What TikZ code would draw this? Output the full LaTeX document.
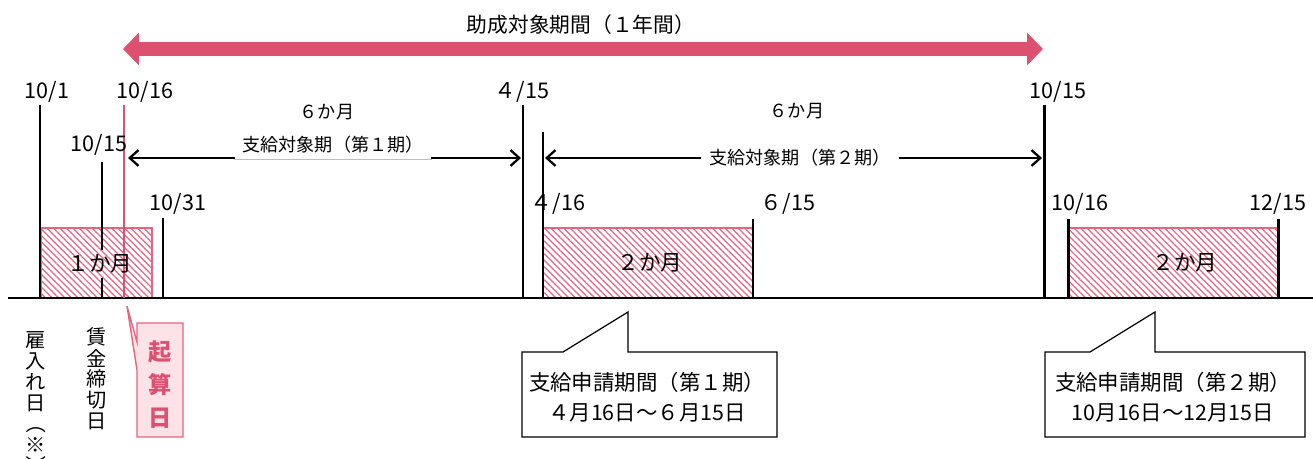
\documentclass[tikz,border=0pt]{standalone}
\usepackage{fontspec}
\setmainfont{Noto Sans CJK JP}
\usetikzlibrary{arrows.meta,patterns.meta}
\definecolor{jpPink}{RGB}{221, 80, 112}
\definecolor{jpPinkLine}{RGB}{230, 100, 128}
\definecolor{jpPinkFill}{RGB}{253, 226, 231}
\definecolor{jpGray}{RGB}{190, 190, 190}

\begin{document}
\begin{tikzpicture}[x=0.02cm, y=-0.02cm]
    % Styles
    \tikzstyle{datelabel} = [font=\fontsize{12.3}{14}\selectfont, inner sep=0pt]
    \tikzstyle{smalllabel} = [font=\fontsize{10.3}{12}\selectfont, inner sep=0pt]
    \tikzstyle{tick} = [line width=1.7pt, black]
    \tikzstyle{hatchbox} = [draw=jpPinkLine, line width=0.8pt, pattern={Lines[angle=-45,distance=2.6pt,line width=0.7pt]}, pattern color=jpPinkLine]
    \tikzstyle{span} = [{Straight Barb[length=5pt,width=9pt]}-{Straight Barb[length=5pt,width=9pt]}, line width=1.3pt]
    \tikzstyle{bigspan} = [{Triangle[length=9.1pt,width=18.2pt]}-{Triangle[length=9.1pt,width=18.2pt]}, line width=8.5pt, jpPink]
    \tikzstyle{callout} = [draw=black, fill=white, line width=0.7pt]
    \tikzstyle{calltext} = [font=\fontsize{12.2}{17}\selectfont, align=center, inner sep=0pt]
    \tikzstyle{vtext} = [font=\fontsize{11.5}{12}\selectfont, inner sep=0pt]

    \path[use as bounding box, clip] (0,0) rectangle (1313,459);

    % Whole period
    \node[font=\fontsize{11.8}{14}\selectfont] (year) at (581,25) {助成対象期間（１年間）};
    \coordinate (yearL) at (123,49);
    \coordinate (yearR) at (1043,49);
    \draw[bigspan] (yearL) -- (yearR);

    % Hatched months
    \draw[hatchbox] (41,228) rectangle (152,298);
    \draw[hatchbox] (543,228) rectangle (753,298);
    \draw[hatchbox] (1068,228) rectangle (1278,298);

    % Time line and ticks
    \draw[tick] (8,298) -- (1313,298);
    \draw[tick] (40,105) -- (40,298);
    \draw[line width=1pt] (102,162) -- (102,250);
    \draw[line width=1pt] (102,278) -- (102,298);
    \draw[tick] (163,218) -- (163,298);
    \draw[tick] (523,105) -- (523,298);
    \draw[tick] (543,132) -- (543,298);
    \draw[tick] (753,219) -- (753,298);
    \draw[tick] (1044,105) -- (1044,298);
    \draw[tick] (1068,219) -- (1068,298);
    \draw[tick] (1278,219) -- (1278,298);
    \draw[line width=1.5pt, jpPink] (124,105) -- (124,298);

    % Date labels
    \node[datelabel] (d1001) at (47,92) {10/1};
    \node[datelabel] (d1016) at (145,92) {10/16};
    \node[datelabel] (d1015) at (99,145) {10/15};
    \node[datelabel] (d1031) at (178,204) {10/31};
    \node[datelabel] (d0415) at (522,92) {４/15};
    \node[datelabel] (d0416) at (558,204) {４/16};
    \node[datelabel] (d0615) at (788,204) {６/15};
    \node[datelabel] (d1015b) at (1058,92) {10/15};
    \node[datelabel] (d1016b) at (1080,204) {10/16};
    \node[datelabel] (d1215) at (1278,204) {12/15};

    % Payment periods
    \coordinate (p1L) at (128,158);
    \coordinate (p1R) at (521,158);
    \coordinate (p2L) at (545,158);
    \coordinate (p2R) at (1042,158);
    \draw[span] (p1L) -- (p1R);
    \draw[span] (p2L) -- (p2R);
    \node[smalllabel] (m1) at (327,112) {６か月};
    \node[smalllabel] (m2) at (797,111) {６か月};
    \node[smalllabel, fill=white, minimum width=3.94cm, minimum height=0.56cm] (p1lab) at (333,145) {支給対象期（第１期）};
    \draw[jpGray, line width=0.5pt] (p1lab.south west) -- (p1lab.south east);
    \node[smalllabel, fill=white, minimum width=3.96cm, minimum height=0.5cm] (p2lab) at (800,158) {支給対象期（第２期）};

    % Month counts
    \node[datelabel] (c1) at (100,264) {１か月};
    \node[datelabel] (c2) at (650,263) {２か月};
    \node[datelabel] (c3) at (1185,263) {２か月};

    % Vertical captions
    \foreach \ch [count=\i] in {雇,入,れ,日}
        \node[vtext] (hire\i) at (36,{319+21*\i}) {\ch};
    \node[vtext, rotate=-90] (hire5) at (36,424) {（};
    \node[vtext] (hire6) at (36,445) {※};
    \node[vtext, rotate=-90] (hire7) at (36,466) {）};
    \foreach \ch [count=\i] in {賃,金,締,切,日}
        \node[vtext] (close\i) at (97,{316+21*\i}) {\ch};

    % Start day callout
    \draw[draw=jpPinkLine, fill=jpPinkFill, line width=0.8pt] (137,323) -- (183,323) -- (183,437) -- (137,437) -- (137,370) -- (127,306) -- (137,342) -- cycle;
    \node[font=\fontsize{13.2}{18.8}\selectfont\bfseries, text=jpPink, align=center, inner sep=0pt] (start) at (160,385) {起\\算\\日};

    % Application callouts
    \draw[callout] (522,352) -- (563,352) -- (628,312) -- (628,352) -- (777,352) -- (777,437) -- (522,437) -- cycle;
    \node[calltext] (app1) at (647,397) {支給申請期間（第１期）\\４月16日～６月15日};
    \draw[callout] (1045,352) -- (1090,352) -- (1155,312) -- (1155,352) -- (1305,352) -- (1305,437) -- (1045,437) -- cycle;
    \node[calltext] (app2) at (1173,397) {支給申請期間（第２期）\\10月16日～12月15日};
\end{tikzpicture}
\end{document}
